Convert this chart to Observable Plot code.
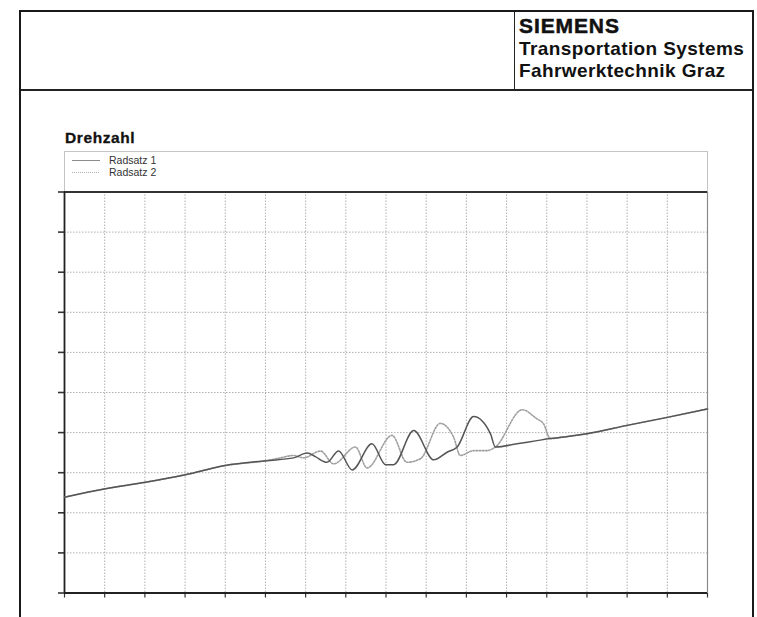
<!DOCTYPE html>
<html>
<head>
<meta charset="utf-8">
<script src="https://cdn.jsdelivr.net/npm/d3@7"></script>
<script src="https://cdn.jsdelivr.net/npm/@observablehq/plot@0.6"></script>
<style>
  html, body { margin: 0; padding: 0; background: #fff; }
  #page { position: relative; width: 757px; height: 617px; overflow: hidden;
          font-family: "Liberation Sans", Arial, sans-serif; color: #111; }
  #frame { position: absolute; left: 19px; top: 10px; width: 731px; height: 700px;
           border: 2px solid #1a1a1a; z-index: 3; pointer-events: none; }
  #headline { position: absolute; left: 21px; top: 89px; width: 731px; height: 1.5px; background: #222; z-index: 3; }
  #divider { position: absolute; left: 514px; top: 12px; width: 1px; height: 78px; background: #222; z-index: 3; }
  .hd { position: absolute; left: 519px; line-height: 0.9; font-weight: bold; white-space: nowrap; color: #111; }
  #t1 { font-size: 21px; top: 17.1px; letter-spacing: 0.9px; -webkit-text-stroke: 0.5px #111; }
  #t2 { font-size: 19px; top: 40.2px; letter-spacing: 0.4px; }
  #t3 { font-size: 19px; top: 61.9px; letter-spacing: 0.4px; }
  #title { position: absolute; left: 65px; top: 129.9px; font-size: 15.5px; font-weight: bold;
           line-height: 1; letter-spacing: 0.6px; white-space: nowrap; -webkit-text-stroke: 0.3px #111; }
  #legend { position: absolute; left: 64px; top: 151px; }
  #chart { position: absolute; left: 0; top: 181px; }
</style>
</head>
<body>
<div id="page">
  <div id="frame"></div>
  <div id="headline"></div>
  <div id="divider"></div>
  <div class="hd" id="t1">SIEMENS</div>
  <div class="hd" id="t2">Transportation Systems</div>
  <div class="hd" id="t3">Fahrwerktechnik Graz</div>
  <div id="title">Drehzahl</div>
  <svg id="legend" width="644" height="41">
    <rect x="0.5" y="0.5" width="643" height="40" fill="none" stroke="#c4c4c4"></rect>
    <line x1="8" x2="36" y1="9.5" y2="9.5" stroke="#8c8c8c" stroke-width="1"></line>
    <text x="45" y="12.6" font-size="10.5" fill="#333" font-family="Liberation Sans, Arial, sans-serif">Radsatz 1</text>
    <line x1="8" x2="36" y1="21.5" y2="21.5" stroke="#b0b0b0" stroke-width="1" stroke-dasharray="1,1"></line>
    <text x="45" y="24.6" font-size="10.5" fill="#333" font-family="Liberation Sans, Arial, sans-serif">Radsatz 2</text>
  </svg>
  <div id="chart"></div>
</div>
<script>
// Grid divisions along both axes (no printed labels on this sheet)
const xTicks = d3.range(0, 17);
const yTicks = d3.range(0, 11);

// Wheelset 1 speed trace (solid)
const radsatz1X = [0, 1.02, 2.01, 3.01, 4.0, 5.02, 5.70, 6.04, 6.24, 6.53, 6.82, 7.16, 7.65, 7.99, 8.19, 8.69, 9.19, 9.52, 9.77, 10.18, 10.60, 10.72, 11.26, 11.76, 12.09, 12.42, 13.0, 14.0, 15.0, 16.0];
const radsatz1Y = [2.39, 2.60, 2.76, 2.95, 3.18, 3.30, 3.37, 3.49, 3.40, 3.26, 3.54, 3.07, 3.72, 3.20, 3.20, 4.05, 3.32, 3.51, 3.64, 4.40, 3.97, 3.64, 3.72, 3.80, 3.85, 3.89, 3.97, 4.18, 4.38, 4.59];

// Wheelset 2 speed trace (dotted)
const radsatz2X = [0, 1.02, 2.01, 3.01, 4.0, 5.02, 5.37, 5.70, 5.95, 6.37, 6.70, 7.24, 7.53, 8.15, 8.52, 8.86, 9.35, 9.68, 9.85, 10.18, 10.51, 10.72, 11.39, 11.76, 11.92, 12.09, 12.42, 13.0, 14.0, 15.0, 16.0];
const radsatz2Y = [2.39, 2.60, 2.76, 2.95, 3.18, 3.30, 3.37, 3.43, 3.37, 3.54, 3.22, 3.64, 3.12, 3.93, 3.26, 3.35, 4.23, 3.89, 3.43, 3.55, 3.55, 3.64, 4.57, 4.34, 4.22, 3.85, 3.89, 3.97, 4.18, 4.38, 4.59];

const r1 = radsatz1X.map((x, i) => ({x, y: radsatz1Y[i]}));
const r2 = radsatz2X.map((x, i) => ({x, y: radsatz2Y[i]}));

const gridStyle = {stroke: "#b0b0b0", strokeOpacity: 1, strokeWidth: 1, strokeDasharray: "1.5,1.5"};

const chart = Plot.plot({
  width: 757,
  height: 436,
  marginLeft: 64,
  marginRight: 50,
  marginTop: 10.5,
  marginBottom: 24.5,
  x: {domain: [0, 16], axis: null},
  y: {domain: [0, 10], axis: null},
  style: {background: "transparent", overflow: "visible"},
  marks: [
    Plot.gridX(xTicks.slice(1, -1), gridStyle),
    Plot.gridY(yTicks.slice(1, -1), gridStyle),
    Plot.axisX(xTicks, {tickSize: 5, tickFormat: () => "", label: null, stroke: "#333", strokeWidth: 1.2}),
    Plot.axisY(yTicks, {tickSize: 6, tickFormat: () => "", label: null, stroke: "#333", strokeWidth: 1.6}),
    Plot.ruleX([16], {stroke: "#8a8a8a", strokeWidth: 1.2}),
    Plot.ruleY([10], {stroke: "#333", strokeWidth: 1.8}),
    Plot.ruleY([0], {stroke: "#222", strokeWidth: 1.8}),
    Plot.ruleX([0], {stroke: "#222", strokeWidth: 1.8}),
    Plot.line(r2, {x: "x", y: "y", curve: "monotone-x", stroke: "#a0a0a0", strokeWidth: 1.6, strokeDasharray: "1.6,1.6"}),
    Plot.line(r1, {x: "x", y: "y", curve: "monotone-x", stroke: "#555", strokeWidth: 1.5})
  ]
});
document.getElementById("chart").appendChild(chart);
</script>
</body>
</html>
